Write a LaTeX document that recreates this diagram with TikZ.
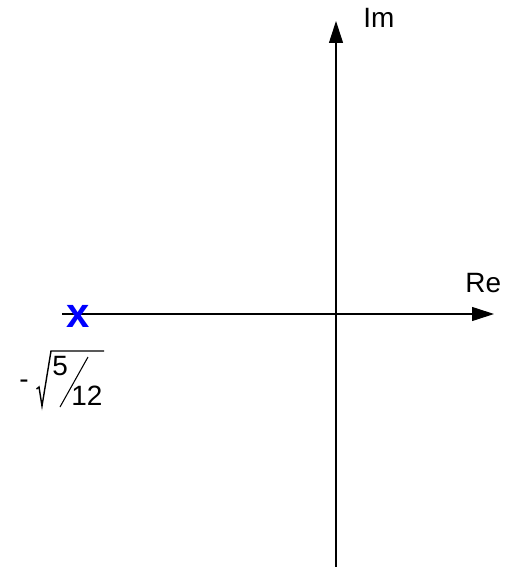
\documentclass[tikz,border=0pt]{standalone}
\usepackage{fontspec}
\setmainfont{Liberation Sans}
\usetikzlibrary{arrows.meta,positioning}
\definecolor{PoleBlue}{HTML}{0000FF}

\begin{document}
\begin{tikzpicture}[
    x=0.02cm, y=-0.02cm,
    axis/.style={-{Triangle[length=4.4mm, width=2.8mm]}, line width=0.6pt, draw=black},
    lbl/.style={anchor=base west, inner sep=0pt, font=\fontsize{15.9}{18}\selectfont},
    pole/.style={inner sep=0pt, text=PoleBlue, font=\fontsize{23.8}{26}\selectfont\bfseries}
  ]
    \useasboundingbox (0,0) rectangle (504,567);

    % axes
    \coordinate (reL) at (62,314);
    \coordinate (reR) at (494,314);
    \coordinate (imB) at (336,567);
    \coordinate (imT) at (336,21);
    \draw[axis] (reL) -- (reR);
    \draw[axis] (imB) -- (imT);
    \node[lbl] (relbl) at (465,292) {Re};
    \node[lbl] (imlbl) at (363,28) {Im};

    % pole and its value
    \node[pole] (p1) at (78,316) {x};
    \node[lbl] (minus) at (19,388) {-};
    \node[lbl] (num) at (52,375) {5};
    \node[lbl] (den) at (71,405) {12};
    \draw[line width=0.6pt] (60,407) -- (88,357);
    \draw[line width=0.8pt, line join=miter] (36.5,389) -- (39,387) -- (42,406) -- (51,351) -- (104,351);
\end{tikzpicture}
\end{document}
